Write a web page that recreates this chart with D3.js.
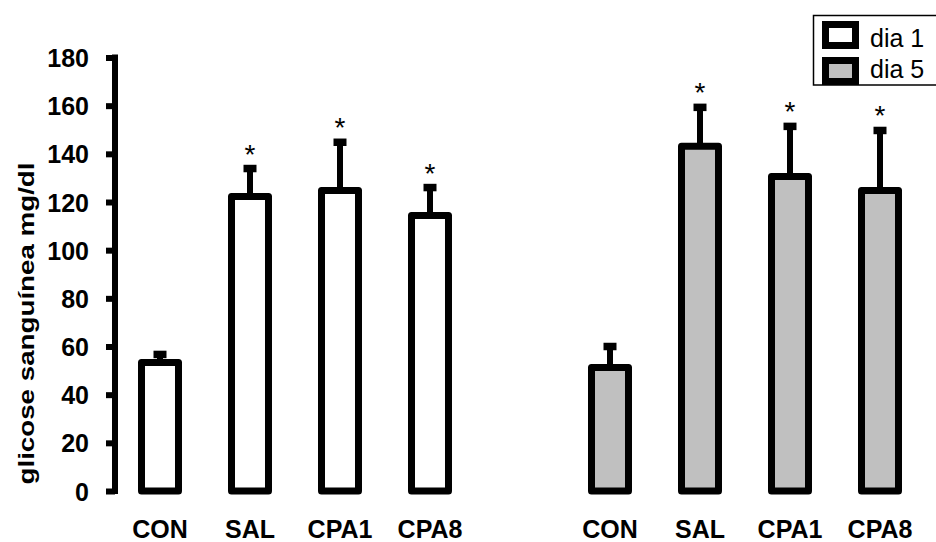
<!DOCTYPE html>
<html>
<head>
<meta charset="utf-8">
<script src="https://cdn.jsdelivr.net/npm/d3@7/dist/d3.min.js"></script>
<style>
  html, body { margin: 0; padding: 0; background: #fff; }
  svg { display: block; font-family: "Liberation Sans", Arial, sans-serif; }
</style>
</head>
<body>
<svg id="chart" width="936" height="542"></svg>
<script>
// Blood glucose (mg/dl) per group, day 1 and day 5
const groups = ["CON", "SAL", "CPA1", "CPA8"];
const days = ["dia 1", "dia 5"];
const dia1Mean = [53.4, 122.3, 124.8, 114.4];
const dia1Err  = [3.3, 11.6, 20, 11.6];
const dia5Mean = [51.3, 143.1, 130.6, 124.8];
const dia5Err  = [8.7, 16.2, 20.8, 24.9];
const dia1Signif = [false, true, true, true];
const dia5Signif = [false, true, true, true];
const yTicks = [0, 20, 40, 60, 80, 100, 120, 140, 160, 180];
const dayFill = { "dia 1": "#ffffff", "dia 5": "#c0c0c0" };

// Slots along the x axis: four day-1 bars, an empty gap, four day-5 bars
const rows = [];
groups.forEach((g, i) => rows.push({ key: "d1-" + g, group: g, day: "dia 1", mean: dia1Mean[i], err: dia1Err[i], sig: dia1Signif[i] }));
const slots = rows.map(r => r.key).concat(["gap"]);
groups.forEach((g, i) => {
  const r = { key: "d5-" + g, group: g, day: "dia 5", mean: dia5Mean[i], err: dia5Err[i], sig: dia5Signif[i] };
  rows.push(r); slots.push(r.key);
});

const svg = d3.select("#chart");

const x = d3.scaleBand().domain(slots).range([115, 925]).paddingInner(0.589).paddingOuter(0.2945);
const y = d3.scaleLinear().domain([0, 180]).range([491, 57.5]);

// Y axis
const yAxis = d3.axisLeft(y).tickValues(yTicks).tickSize(9).tickPadding(17);
const gy = svg.append("g").attr("transform", "translate(115,0)").call(yAxis);
gy.select(".domain").attr("d", `M0,${y(180) - 3}V${y(0) + 3}`).attr("stroke", "#000").attr("stroke-width", 6).attr("fill", "none");
gy.selectAll(".tick line").attr("stroke", "#000").attr("stroke-width", 6).attr("x1", 0);
gy.selectAll(".tick text")
  .attr("fill", "#000").attr("font-size", 25).attr("font-weight", "bold")
  .attr("font-family", "'Liberation Sans', Arial, sans-serif").attr("dy", "0.36em");

// Y label
svg.append("text")
  .attr("transform", `translate(34,${323.5}) rotate(-90)`)
  .attr("text-anchor", "middle")
  .attr("font-size", 22).attr("font-weight", "bold")
  .attr("textLength", 322).attr("lengthAdjust", "spacingAndGlyphs")
  .text("glicose sanguínea mg/dl");

// Error bars (drawn before bars so the stem starts at the bar's top edge)
const eb = svg.append("g");
rows.forEach(r => {
  const cx = x(r.key) + x.bandwidth() / 2;
  eb.append("line").attr("x1", cx).attr("x2", cx)
    .attr("y1", y(r.mean)).attr("y2", y(r.mean + r.err))
    .attr("stroke", "#000").attr("stroke-width", 6);
  eb.append("line").attr("x1", cx - 6.5).attr("x2", cx + 6.5)
    .attr("y1", y(r.mean + r.err)).attr("y2", y(r.mean + r.err))
    .attr("stroke", "#000").attr("stroke-width", 7.5);
});

// Bars
svg.append("g").selectAll("rect").data(rows).join("rect")
  .attr("x", d => x(d.key))
  .attr("width", x.bandwidth())
  .attr("y", d => y(d.mean))
  .attr("height", d => y(0) - y(d.mean))
  .attr("fill", d => dayFill[d.day])
  .attr("stroke", "#000").attr("stroke-width", 7)
  .attr("stroke-linejoin", "round");

// Significance markers
svg.append("g").selectAll("text").data(rows.filter(d => d.sig)).join("text")
  .attr("x", d => x(d.key) + x.bandwidth() / 2)
  .attr("y", d => y(d.mean + d.err) - 5)
  .attr("text-anchor", "middle").attr("font-size", 28)
  .text("*");

// Category labels
svg.append("g").selectAll("text").data(rows).join("text")
  .attr("x", d => x(d.key) + x.bandwidth() / 2)
  .attr("y", 538)
  .attr("text-anchor", "middle").attr("font-size", 25).attr("font-weight", "bold")
  .text(d => d.group);

// Legend
const lg = svg.append("g");
lg.append("rect").attr("x", 813.5).attr("y", 15.5).attr("width", 140).attr("height", 69.5)
  .attr("fill", "#fff").attr("stroke", "#000").attr("stroke-width", 1.5);
days.forEach((d, i) => {
  const top = 24.5 + i * 36;
  lg.append("rect").attr("x", 825.5).attr("y", top).attr("width", 30).attr("height", 21)
    .attr("fill", dayFill[d]).attr("stroke", "#000").attr("stroke-width", 7);
  lg.append("text").attr("x", 870).attr("y", 47 + i * 31).attr("font-size", 25).text(d);
});
</script>
</body>
</html>
